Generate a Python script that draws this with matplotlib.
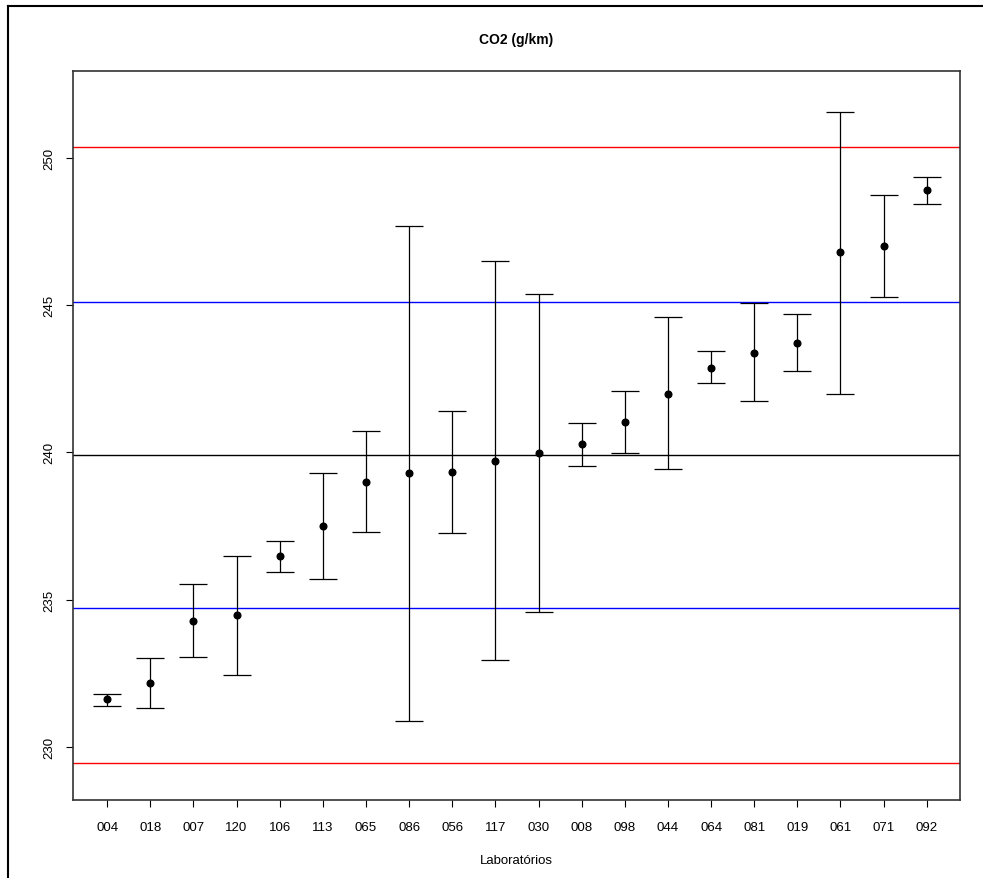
import numpy as np
import matplotlib
matplotlib.use("Agg")
import matplotlib.pyplot as plt
from matplotlib.lines import Line2D

plt.rcParams['font.family'] = ['Liberation Sans', 'DejaVu Sans']

labs = ["004", "018", "007", "120", "106", "113", "065", "086", "056", "117",
        "030", "008", "098", "044", "064", "081", "019", "061", "071", "092"]
media = [231.62, 232.17, 234.29, 234.48, 236.48, 237.49, 239.01, 239.31, 239.35, 239.72,
         239.98, 240.28, 241.03, 241.99, 242.88, 243.39, 243.73, 246.79, 247.00, 248.90]
sup = [231.80, 233.03, 235.53, 236.49, 237.00, 239.31, 240.72, 247.70, 241.39, 246.51,
       245.37, 240.99, 242.07, 244.59, 243.43, 245.07, 244.70, 251.57, 248.75, 249.34]
inf = [231.40, 231.31, 233.07, 232.43, 235.94, 235.71, 237.31, 230.87, 237.27, 232.95,
       234.57, 239.54, 239.98, 239.43, 242.36, 241.73, 242.77, 241.99, 245.29, 248.42]

centro = 239.92
lim_azul = [234.72, 245.12]
lim_verm = [229.47, 250.37]

x = np.arange(1, len(labs) + 1)
media = np.array(media)
err = [media - np.array(inf), np.array(sup) - media]

fig = plt.figure(figsize=(9.83, 8.79), dpi=100)
ax = fig.add_axes([73/983, 1-801/879, (960-73)/983, (801-72)/879])

ax.axhline(centro, color="black", lw=1.0)
for v in lim_azul:
    ax.axhline(v, color="blue", lw=1.0)
for v in lim_verm:
    ax.axhline(v, color="red", lw=1.0)

ax.errorbar(x, media, yerr=err, fmt="o", color="black", ms=4.8,
            ecolor="black", elinewidth=0.9, capsize=10, capthick=0.9)

ax.set_xlim(0.21, 20.77)
ax.set_ylim(228.2, 252.95)
ax.set_xticks(x)
ax.set_xticklabels(labs)
ax.set_yticks([230, 235, 240, 245, 250])
ax.tick_params(axis="x", length=5, width=0.8, pad=10, labelsize=9.5)
ax.tick_params(axis="y", length=5, width=0.8, pad=8, labelsize=9.5)
for t in ax.get_yticklabels():
    t.set_rotation(90)
    t.set_va("center")
for s in ax.spines.values():
    s.set_linewidth(1.2)
    s.set_color("#333333")

ax.set_xlabel("Laboratórios", fontsize=9.5, labelpad=15)
fig.text((73+960)/2/983, 1-40/879, "CO2 (g/km)", ha="center", va="center",
         fontsize=10, fontweight="bold")

fx = 8/983
fy = 1 - 7/879
fig.add_artist(Line2D([fx, fx], [0, fy], color="black", lw=1.5, transform=fig.transFigure))
fig.add_artist(Line2D([fx, 1], [fy, fy], color="black", lw=1.5, transform=fig.transFigure))

fig.savefig("out.png", dpi=100)
